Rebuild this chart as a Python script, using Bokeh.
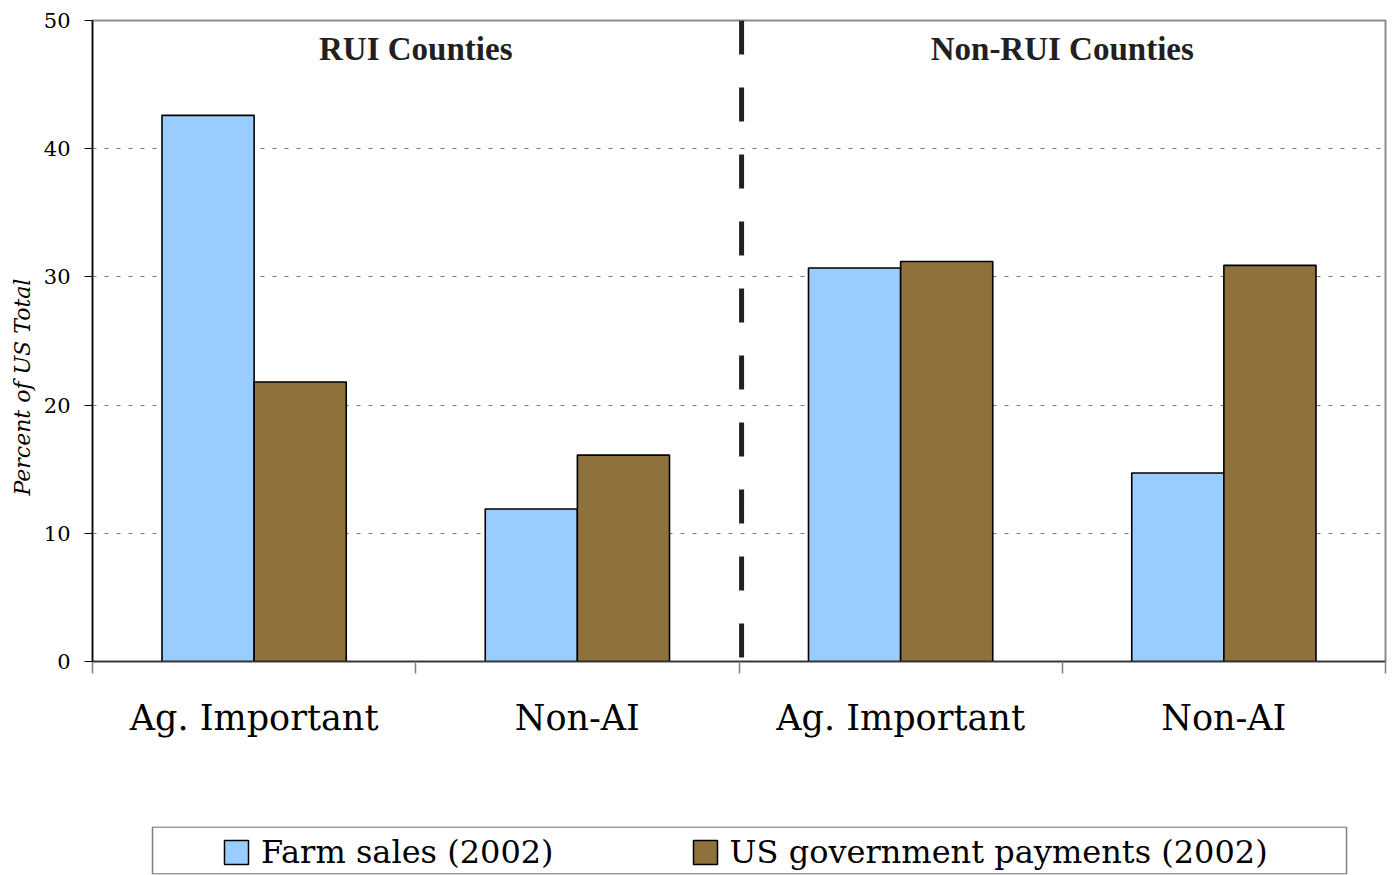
from bokeh.plotting import figure
from bokeh.models import (ColumnDataSource, Range1d, FixedTicker, Span, Title,
                          Legend, LegendItem)
from bokeh.transform import dodge
from bokeh.layouts import column
from bokeh.core.properties import value
from bokeh.embed import file_html
from bokeh.resources import INLINE

# ---- data ----
groups = ["RUI Counties", "Non-RUI Counties"]
group_centers = [1.0, 3.0]
categories = ["Ag. Important", "Non-AI", "Ag. Important", "Non-AI"]
cat_pos = [0.5, 1.5, 2.5, 3.5]
farm_sales = [42.6, 11.9, 30.7, 14.7]
gov_payments = [21.8, 16.1, 31.2, 30.9]
series_names = ["Farm sales (2002)", "US government payments (2002)"]
y_ticks = [0, 10, 20, 30, 40, 50]

BLUE = "#99ccff"
BROWN = "#8e713b"
SERIF = "DejaVu Serif"

src = ColumnDataSource(dict(x=cat_pos, farm=farm_sales, gov=gov_payments))

p = figure(width=1393, height=800, output_backend="svg", toolbar_location=None,
           x_range=Range1d(0, 4), y_range=Range1d(0, 50),
           min_border_left=92, min_border_right=8, min_border_top=20,
           min_border_bottom=139)
p.background_fill_color = "white"
p.border_fill_color = "white"
p.outline_line_color = "#8c8c8c"
p.outline_line_width = 2

# grid
p.xgrid.visible = False
p.ygrid.ticker = FixedTicker(ticks=[10, 20, 30, 40])
p.ygrid.grid_line_color = "#7a7a7a"
p.ygrid.grid_line_dash = "4 8"
p.ygrid.grid_line_width = 1

bw = 0.285
p.vbar(x=dodge("x", -bw / 2, range=p.x_range), top="farm", width=bw, source=src,
       fill_color=BLUE, line_color="black", line_width=1.6)
p.vbar(x=dodge("x", bw / 2, range=p.x_range), top="gov", width=bw, source=src,
       fill_color=BROWN, line_color="black", line_width=1.6)

# divider between the two county groups
p.add_layout(Span(location=2.008, dimension="height", line_color="#231f20",
                  line_width=5, line_dash="34 33"))

# group titles
p.text(x=group_centers, y=[47.8, 47.8], text=groups, text_align="center",
       text_baseline="middle", text_font=value("Liberation Serif"),
       text_font_style="bold", text_font_size="33px", text_color="#231f20")

# x axis
xa = p.xaxis[0]
xa.ticker = FixedTicker(ticks=cat_pos, minor_ticks=[0, 1, 2, 3, 4])
xa.major_label_overrides = {pos: lab for pos, lab in zip(cat_pos, categories)}
xa.major_tick_line_color = None
xa.major_tick_out = 0
xa.major_tick_in = 0
xa.minor_tick_out = 12
xa.minor_tick_in = 0
xa.minor_tick_line_color = "#808080"
xa.minor_tick_line_width = 1.5
xa.axis_line_color = "#333333"
xa.axis_line_width = 1.5
xa.major_label_standoff = 24
xa.major_label_text_font = SERIF
xa.major_label_text_font_size = "35px"
xa.major_label_text_color = "black"

# y axis
ya = p.yaxis[0]
ya.ticker = FixedTicker(ticks=y_ticks)
ya.major_tick_out = 8
ya.major_tick_in = 0
ya.major_tick_line_color = "black"
ya.minor_tick_line_color = None
ya.axis_line_color = "black"
ya.axis_line_width = 1.5
ya.major_label_standoff = 14
ya.major_label_text_font = SERIF
ya.major_label_text_font_size = "21px"
ya.major_label_text_color = "black"

p.add_layout(Title(text="Percent of US Total", align="left", offset=166,
                   text_font=SERIF, text_font_style="italic",
                   text_font_size="22px", text_color="black", standoff=12), "left")

# ---- legend panel (frame aligned with main frame, x in pixel-like units) ----
leg = figure(width=1393, height=75, output_backend="svg", toolbar_location=None,
             x_range=Range1d(92, 1385), y_range=Range1d(0, 48),
             x_axis_location=None, y_axis_location=None,
             min_border_left=92, min_border_right=8, min_border_top=26,
             min_border_bottom=1)
leg.grid.visible = False
leg.outline_line_color = None
leg.background_fill_color = "white"
leg.border_fill_color = "white"
leg.quad(left=[152], right=[1346], bottom=[0.5], top=[47.5], fill_color=None,
         line_color="#7f7f7f", line_width=1.5)
# tiny proxy renderers for the legend swatches, hidden beneath the first swatch
hidden = ColumnDataSource(dict(x=[236], bottom=[17.5], top=[18]))
r1 = leg.vbar(x="x", bottom="bottom", top="top", width=0.5, source=hidden,
              fill_color=BLUE, line_color=BLUE, line_width=0.5)
r2 = leg.vbar(x="x", bottom="bottom", top="top", width=0.5, source=hidden,
              fill_color=BLUE, line_color=BLUE, line_width=0.5)
r1.glyph.update(line_color="black", line_width=1.5)
r2.glyph.update(fill_color=BROWN, line_color="black", line_width=1.5)
legend = Legend(items=[LegendItem(label=series_names[0], renderers=[r1]),
                       LegendItem(label=series_names[1], renderers=[r2])],
                orientation="horizontal", location=(221 - 92, 3),
                glyph_width=30, glyph_height=30, label_standoff=10, spacing=136,
                label_text_font=SERIF, label_text_font_size="32px",
                label_text_color="black", border_line_alpha=0,
                background_fill_alpha=0, padding=0, margin=0)
leg.add_layout(legend, "center")

layout = column(p, leg, spacing=0)
open("out.html", "w").write(file_html(layout, INLINE))
